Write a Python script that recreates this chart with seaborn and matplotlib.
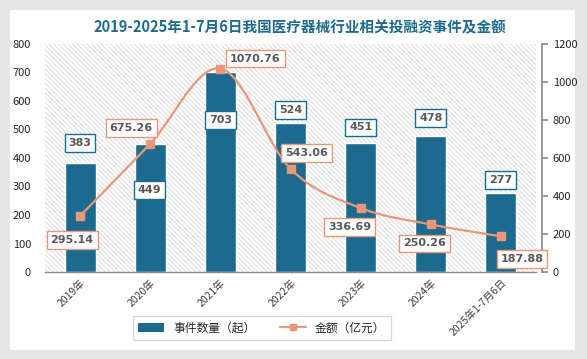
import numpy as np
import pandas as pd
import matplotlib
matplotlib.use("Agg")
import matplotlib.pyplot as plt
from matplotlib.patches import Rectangle, Patch
from matplotlib.lines import Line2D
import seaborn as sns

categories = ["2019年", "2020年", "2021年", "2022年", "2023年", "2024年", "2025年1-7月6日"]
events = [383, 449, 703, 524, 451, 478, 277]
amounts = [295.14, 675.26, 1070.76, 543.06, 336.69, 250.26, 187.88]

BAR_C = "#1d6a8f"
LINE_C = "#e8977a"
TXT_C = "#595959"

sns.set_theme(style="white")
plt.rcParams["font.family"] = ["Noto Sans CJK SC", "DejaVu Sans"]
plt.rcParams["hatch.linewidth"] = 0.6
plt.rcParams["hatch.color"] = "#d9d9d9"

fig = plt.figure(figsize=(5.87, 3.59), dpi=100)
fig.patch.set_facecolor("#e6e6e6")
card = Rectangle((10/587, 1-350/359), 565/587, 340/359,
                 transform=fig.transFigure, facecolor="white",
                 edgecolor="none", zorder=-10)
fig.add_artist(card)

ax = fig.add_axes([45/587, 1-272/359, 491/587, 228/359])
ax.set_facecolor("white")
ax.add_patch(Rectangle((0, 0), 1, 1, transform=ax.transAxes, facecolor="white",
                       hatch="\\\\\\\\\\\\\\", edgecolor="#d9d9d9", linewidth=0, zorder=0))

df = pd.DataFrame({"cat": categories, "events": events, "amount": amounts})
sns.barplot(data=df, x="cat", y="events", color=BAR_C, width=0.44, ax=ax,
            edgecolor="white", linewidth=1.0, saturation=1, zorder=2)
ax.set_xlim(-0.5, 6.5)
ax.set_ylim(0, 800)
ax.set_yticks(range(0, 801, 100))
ax.set_xlabel("")
ax.set_ylabel("")
for s in ["left", "top", "right"]:
    ax.spines[s].set_visible(False)
ax.spines["bottom"].set_color("#8c8c8c")
ax.spines["bottom"].set_linewidth(1)
ax.tick_params(axis="y", length=0, labelsize=8, colors="#262626", pad=10)
ax.tick_params(axis="x", length=0, labelsize=7.5, colors="#404040", pad=4)
for lab in ax.get_xticklabels():
    lab.set_rotation(45)
    lab.set_ha("right")
    lab.set_rotation_mode("anchor")

ax2 = ax.twinx()
ax2.set_ylim(0, 1200)
ax2.set_yticks(range(0, 1201, 200))
for s in ["left", "top", "bottom"]:
    ax2.spines[s].set_visible(False)
ax2.spines["right"].set_position(("outward", 4))
ax2.spines["right"].set_color("#8c8c8c")
ax2.tick_params(axis="y", length=4, direction="out", color="#8c8c8c",
                labelsize=8, labelcolor="#262626", pad=4)

# smooth (Excel-like) curve through the data points
xs = np.arange(len(amounts), dtype=float)
ys = np.array(amounts, dtype=float)
px = np.concatenate([[xs[0]], xs, [xs[-1]]])
py = np.concatenate([[ys[0]], ys, [ys[-1]]])
cx, cy = [], []
t = np.linspace(0, 1, 30)
for i in range(1, len(px) - 2):
    p0 = np.array([px[i-1], py[i-1]]); p1 = np.array([px[i], py[i]])
    p2 = np.array([px[i+1], py[i+1]]); p3 = np.array([px[i+2], py[i+2]])
    c1 = p1 + (p2 - p0) / 6
    c2 = p2 - (p3 - p1) / 6
    b = ((1-t)**3)[:, None]*p1 + (3*(1-t)**2*t)[:, None]*c1 + (3*(1-t)*t**2)[:, None]*c2 + (t**3)[:, None]*p2
    cx.extend(b[:, 0]); cy.extend(b[:, 1])
ax2.plot(cx, cy, color=LINE_C, lw=1.6, zorder=3)
ax2.plot(xs, ys, linestyle="none", marker="s", ms=6, color=LINE_C, zorder=4)

k = 0.72
bar_off = [(0, 20), (-1, -46), (0, -48), (0, 13), (0, 16), (0, 18), (0, 13)]
for i, (v, (dx, dy)) in enumerate(zip(events, bar_off)):
    ax.annotate(str(v), (i, v), xytext=(dx*k, dy*k), textcoords="offset points",
                ha="center", va="center", fontsize=8, fontweight="bold", color=TXT_C,
                family=["DejaVu Sans"], zorder=6,
                bbox=dict(boxstyle="square,pad=0.35", fc="white", ec=BAR_C, lw=1))
line_off = [(-8, -24), (-19, 16), (35, 10), (16, 16), (-11, -19), (-6, -19), (21, -23)]
for i, (v, (dx, dy)) in enumerate(zip(amounts, line_off)):
    ax2.annotate(f"{v:.2f}", (i, v), xytext=(dx*k, dy*k), textcoords="offset points",
                 ha="center", va="center", fontsize=8, fontweight="bold", color=TXT_C,
                 family=["DejaVu Sans"], zorder=6,
                 bbox=dict(boxstyle="square,pad=0.35", fc="white", ec=LINE_C, lw=1))

fig.text(300/587, 1-27/359, "2019-2025年1-7月6日我国医疗器械行业相关投融资事件及金额",
         ha="center", va="center", fontsize=10.5, fontweight="bold", color="#1f6b8e")

handles = [Patch(facecolor=BAR_C, edgecolor="none"),
           Line2D([0], [0], color=LINE_C, lw=1.6, marker="s", ms=5)]
leg = fig.legend(handles, ["事件数量（起）", "金额（亿元）"], loc="center",
                 bbox_to_anchor=(262/587, 1-328/359), ncol=2, fontsize=8.5,
                 frameon=True, fancybox=False, edgecolor="#d0d0d0",
                 handlelength=2.2, columnspacing=2.0, borderpad=0.45)
leg.get_frame().set_linewidth(1)

fig.savefig("out.png", dpi=100, facecolor=fig.get_facecolor())
